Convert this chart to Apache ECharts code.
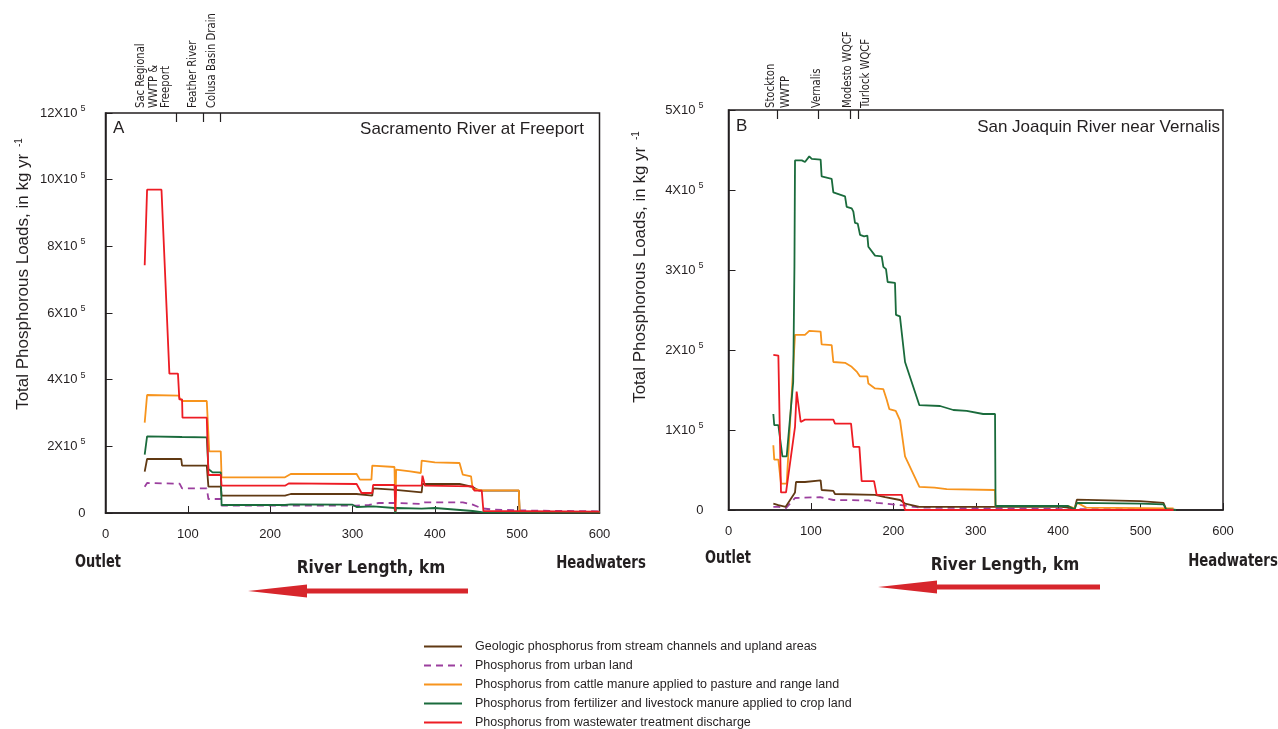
<!DOCTYPE html>
<html><head><meta charset="utf-8">
<script src="https://cdn.jsdelivr.net/npm/echarts@6/dist/echarts.min.js"></script>
<style>html,body{margin:0;padding:0;background:#fff}#c{width:1278px;height:729px}</style>
</head><body><div id="c"></div>
<script>
// ---------- DATA (loads in units of 1e5 kg/yr, river length in km) ----------
const seriesNames = [
  'Geologic phosphorus from stream channels and upland areas',
  'Phosphorus from urban land',
  'Phosphorus from cattle manure applied to pasture and range land',
  'Phosphorus from fertilizer and livestock manure applied to crop land',
  'Phosphorus from wastewater treatment discharge'
];
const xTicks = [0, 100, 200, 300, 400, 500, 600];
const sacYTicks = [0, 2, 4, 6, 8, 10, 12];
const sjYTicks = [0, 1, 2, 3, 4, 5];

// Sacramento River at Freeport
const sacGeologic = [[47.6,1.24],[50.5,1.62],[92,1.62],[93,1.42],[123,1.42],[125,0.79],[140,0.79],[141,0.52],[218,0.52],[225,0.57],[305,0.57],[324,0.52],[325,0.74],[349,0.70],[384,0.62],[385,0.87],[430,0.87],[446,0.78],[454,0.67],[502,0.67],[503,0.02],[600,0.02]];
const sacUrban = [[47.6,0.79],[50.5,0.90],[90,0.88],[93,0.74],[123,0.74],[125,0.42],[140,0.42],[141,0.22],[305,0.22],[320,0.24],[332,0.30],[352,0.30],[384,0.27],[388,0.32],[434,0.32],[446,0.25],[457,0.14],[472,0.10],[520,0.07],[600,0.05]];
const sacCattle = [[47.6,2.71],[50.5,3.54],[89,3.52],[90,3.45],[93,3.36],[123,3.36],[126,1.85],[140,1.85],[141,1.07],[218,1.07],[225,1.17],[305,1.17],[309,1.00],[323,1.00],[324,1.42],[351,1.38],[352,0.02],[353,1.30],[370,1.25],[383,1.20],[384,1.57],[400,1.52],[430,1.50],[434,1.15],[444,1.10],[446,0.72],[458,0.68],[502,0.68],[503,0.03],[600,0.03]];
const sacCrop = [[47.6,1.75],[50.5,2.30],[93,2.28],[123,2.27],[125,1.32],[130,1.22],[140,1.22],[141,0.24],[218,0.24],[225,0.26],[300,0.25],[305,0.18],[325,0.20],[351,0.15],[352,0],[353,0.15],[384,0.13],[400,0.15],[446,0.06],[459,0.02],[600,0.02]];
const sacWastewater = [[47.6,7.43],[50.5,9.70],[68,9.70],[77.6,4.18],[88,4.18],[89.7,3.41],[93,3.41],[93.5,2.86],[123,2.86],[125,1.14],[140,1.14],[141,0.82],[218,0.82],[223,0.89],[305,0.87],[311,0.60],[324,0.60],[325,0.84],[351,0.84],[352,0.05],[353,0.82],[384,0.82],[385,1.12],[388,0.82],[446,0.80],[448,0.67],[457,0.67],[459,0.06],[600,0.04]];
const sacTribTicks = [86, 119, 139];
const sacTribLabelKm = [58, 105.5, 129.5];
const sacTribLabels = ['Sac Regional\nWWTP &\nFreeport', 'Feather River', 'Colusa Basin Drain'];

// San Joaquin River near Vernalis
const sjGeologic = [[54.4,0.08],[60.5,0.06],[69.4,0.04],[80.7,0.22],[81.9,0.35],[92.8,0.35],[111.8,0.37],[113,0.25],[127.2,0.24],[129.2,0.20],[177.8,0.19],[190,0.16],[208.1,0.125],[214.2,0.08],[231.6,0.04],[323,0.04],[404,0.04],[420,0.02],[422.7,0.13],[499.6,0.11],[527.8,0.09],[531,0.01],[543,0]];
const sjUrban = [[54.4,0.04],[60.5,0.04],[69.4,0.02],[80.7,0.15],[111,0.16],[127.2,0.125],[170,0.12],[179.8,0.09],[210,0.06],[232,0.03],[323,0.02],[420,0.01],[540,0.01]];
const sjCattle = [[54.4,0.81],[55.5,0.63],[60.5,0.63],[63.7,0.33],[70.6,0.33],[80.7,2.19],[92.8,2.19],[98,2.24],[111.8,2.23],[113,2.07],[125.2,2.06],[127.2,1.85],[141.4,1.84],[149.5,1.79],[155.5,1.73],[159.6,1.67],[168.5,1.67],[169.7,1.58],[177.8,1.52],[187.9,1.51],[191.9,1.38],[195.2,1.26],[202.9,1.24],[208.1,1.12],[214.2,0.67],[231.6,0.29],[250,0.28],[264.8,0.26],[323.4,0.25],[324,0.05],[412,0.05],[420,0.02],[423,0.09],[434,0.03],[540,0.02]];
const sjCrop = [[54.4,1.20],[55.5,1.06],[60.5,1.06],[65.4,0.67],[70.6,0.67],[78.5,1.6],[80,3.04],[80.7,4.37],[89,4.37],[92.8,4.35],[98,4.42],[101,4.39],[111.8,4.38],[113,4.17],[125.2,4.14],[127.2,3.97],[141.4,3.92],[143.4,3.79],[149.5,3.77],[151.5,3.73],[153.5,3.59],[156.8,3.58],[159.6,3.44],[164.5,3.42],[168.5,3.43],[169.7,3.29],[177.8,3.18],[185.9,3.17],[187.9,3.04],[191.1,3.01],[193.1,2.85],[202,2.84],[203.2,2.44],[208,2.42],[214.2,1.85],[231.6,1.31],[256.7,1.30],[272.8,1.25],[289,1.24],[309,1.20],[323.4,1.20],[324,0.05],[412,0.05],[420,0.01],[422.7,0.09],[500,0.08],[527.8,0.07],[531,0.01],[543,0]];
const sjWastewater = [[54.4,1.94],[60.5,1.93],[63.7,0.22],[69.8,0.22],[80.7,1.04],[82.7,1.48],[84.7,1.47],[87.6,1.10],[92.8,1.13],[127.2,1.13],[129.2,1.08],[148.7,1.08],[151.5,0.79],[158.8,0.79],[161.6,0.36],[176.6,0.36],[179.8,0.19],[210.2,0.19],[214.2,0],[540,0]];
const sjTribTicks = [59, 109, 148, 157];
const sjTribLabelKm = [60, 107, 144, 166.5];
const sjTribLabels = ['Stockton\nWWTP', 'Vernalis', 'Modesto WQCF', 'Turlock WQCF'];

// ---------- STYLE ----------
const INK = '#231f20';
const FONT = "'Liberation Sans', Arial, sans-serif";
const NARROW = "'DejaVu Sans Condensed', 'Liberation Sans Narrow', sans-serif";
const colors = ['#603913', '#9b3f9e', '#f7941d', '#1a6b3c', '#ed1c24'];

const chart = echarts.init(document.getElementById('c'), null, {renderer: 'canvas'});

function yFmt(v) { return v === 0 ? '{a|0}' : '{a|' + v + 'X10}{s|5}'; }
const yRich = {
  a: {fontSize: 13, lineHeight: 18, color: INK, fontFamily: FONT},
  s: {fontSize: 9, lineHeight: 9, verticalAlign: 'top', color: INK, fontFamily: FONT, padding: [0, 0, 0, 3]}
};

function bottomX(gi) {
  return {
    type: 'value', gridIndex: gi, position: 'bottom', min: 0, max: 600, interval: 100,
    axisLine: {show: true, lineStyle: {color: INK, width: 1.5}},
    axisTick: {show: true, inside: true, length: 7, lineStyle: {color: INK, width: 1}},
    axisLabel: {margin: 15, fontSize: 13, color: INK, fontFamily: FONT, customValues: xTicks},
    splitLine: {show: false}
  };
}
function topX(gi, ticks) {
  return {
    type: 'value', gridIndex: gi, position: 'top', min: 0, max: 600,
    axisLine: {show: false},
    axisTick: {show: true, inside: true, length: 9, customValues: ticks, lineStyle: {color: INK, width: 1.2}},
    axisLabel: {show: false},
    splitLine: {show: false}
  };
}
function leftY(gi, max, interval, ticks, margin, gap, pad) {
  return {
    type: 'value', gridIndex: gi, min: 0, max: max, interval: interval,
    axisLine: {show: true, lineStyle: {color: INK, width: 1.5}},
    axisTick: {show: true, inside: true, length: 7, lineStyle: {color: INK, width: 1}},
    axisLabel: {margin: margin, formatter: yFmt, rich: yRich, customValues: ticks},
    splitLine: {show: false},
    name: 'Total Phosphorous Loads, in kg yr {s|-1}',
    nameLocation: 'middle', nameGap: gap,
    nameTextStyle: {fontSize: 17, color: INK, fontFamily: FONT, padding: [0, 0, 0, pad],
      rich: {s: {fontSize: 10, lineHeight: 10, verticalAlign: 'top', color: INK, fontFamily: FONT, padding: [0,0,0,2]}}}
  };
}

function mk(name, idx, data, gi) {
  return {
    type: 'line', name: name, xAxisIndex: gi * 2, yAxisIndex: gi, data: data,
    showSymbol: false, symbol: 'none', animation: false,
    lineStyle: {color: colors[idx], width: 1.8, type: idx === 1 ? [7, 5] : 'solid'},
    itemStyle: {color: colors[idx]}, z: idx === 1 ? 1 : 2
  };
}
const sacSets = [sacGeologic, sacUrban, sacCattle, sacCrop, sacWastewater];
const sjSets = [sjGeologic, sjUrban, sjCattle, sjCrop, sjWastewater];
const series = [];
sacSets.forEach((d, i) => series.push(mk(seriesNames[i], i, d, 0)));
sjSets.forEach((d, i) => series.push(mk(seriesNames[i], i, d, 1)));

function arrow(tip, end, y) {
  return {type: 'polygon', silent: true,
    shape: {points: [[tip, y], [tip + 59, y - 6.5], [tip + 59, y - 2.6], [end, y - 2.6], [end, y + 2.6], [tip + 59, y + 2.6], [tip + 59, y + 6.5]]},
    style: {fill: '#d7262c'}};
}
function label(t, x, y, sx) {
  return {type: 'text', silent: true, x: x, y: y, scaleX: sx,
    style: {text: t, fill: INK, font: "bold 18px " + NARROW, textAlign: 'center', textVerticalAlign: 'middle'}};
}
const ttl = {fontSize: 17, fontWeight: 'normal', color: INK, fontFamily: FONT};

chart.setOption({
  animation: false,
  backgroundColor: '#fff',
  title: [
    {text: 'A', left: 113, top: 120, padding: 0, textStyle: ttl},
    {text: 'Sacramento River at Freeport', right: 1278 - 584, top: 121, padding: 0, textStyle: ttl},
    {text: 'B', left: 736, top: 118, padding: 0, textStyle: ttl},
    {text: 'San Joaquin River near Vernalis', right: 1278 - 1220, top: 119, padding: 0, textStyle: ttl}
  ],
  grid: [
    {left: 105.5, top: 113, width: 494, height: 400, show: true, borderColor: INK, borderWidth: 1.5, containLabel: false},
    {left: 728.5, top: 110, width: 494.5, height: 400, show: true, borderColor: INK, borderWidth: 1.5, containLabel: false}
  ],
  xAxis: [bottomX(0), topX(0, sacTribTicks), bottomX(1), topX(1, sjTribTicks)],
  yAxis: [
    leftY(0, 12, 2, sacYTicks, 20, 74, 78),
    leftY(1, 5, 1, sjYTicks, 25, 80, 86)
  ],
  legend: {
    orient: 'vertical', left: 423, top: 640, height: 120, padding: 0, itemWidth: 38, itemHeight: 14, itemGap: 6,
    data: seriesNames, selectedMode: false,
    itemStyle: {opacity: 0},
    textStyle: {fontSize: 12.5, color: INK, fontFamily: FONT, padding: [0, 0, 0, 8]}
  },
  series: series
});

// tributary labels along the top axes, placed through the library's own scales
function tribGraphics(xi, yi, ymax, kms, texts, off, lh) {
  return kms.map((km, i) => {
    const p = chart.convertToPixel({xAxisIndex: xi, yAxisIndex: yi}, [km, ymax]);
    return {type: 'text', silent: true, x: p[0], y: p[1] - off, rotation: Math.PI / 2, scaleX: 0.86,
      style: {text: texts[i], fill: INK, font: "13px " + NARROW, lineHeight: lh, textAlign: 'left', textVerticalAlign: 'middle'}};
  });
}
chart.setOption({
  graphic: [
    label('Outlet', 98, 562, 0.8), label('River Length, km', 371, 568, 0.95), label('Headwaters', 601, 563, 0.82),
    label('Outlet', 728, 558, 0.8), label('River Length, km', 1005, 565, 0.95), label('Headwaters', 1233, 561, 0.82),
    arrow(248, 468, 591), arrow(878, 1100, 587)
  ].concat(tribGraphics(1, 0, 12, sacTribLabelKm, sacTribLabels, 5, 12.3))
   .concat(tribGraphics(3, 1, 5, sjTribLabelKm, sjTribLabels, 2, 15))
});
</script></body></html>
